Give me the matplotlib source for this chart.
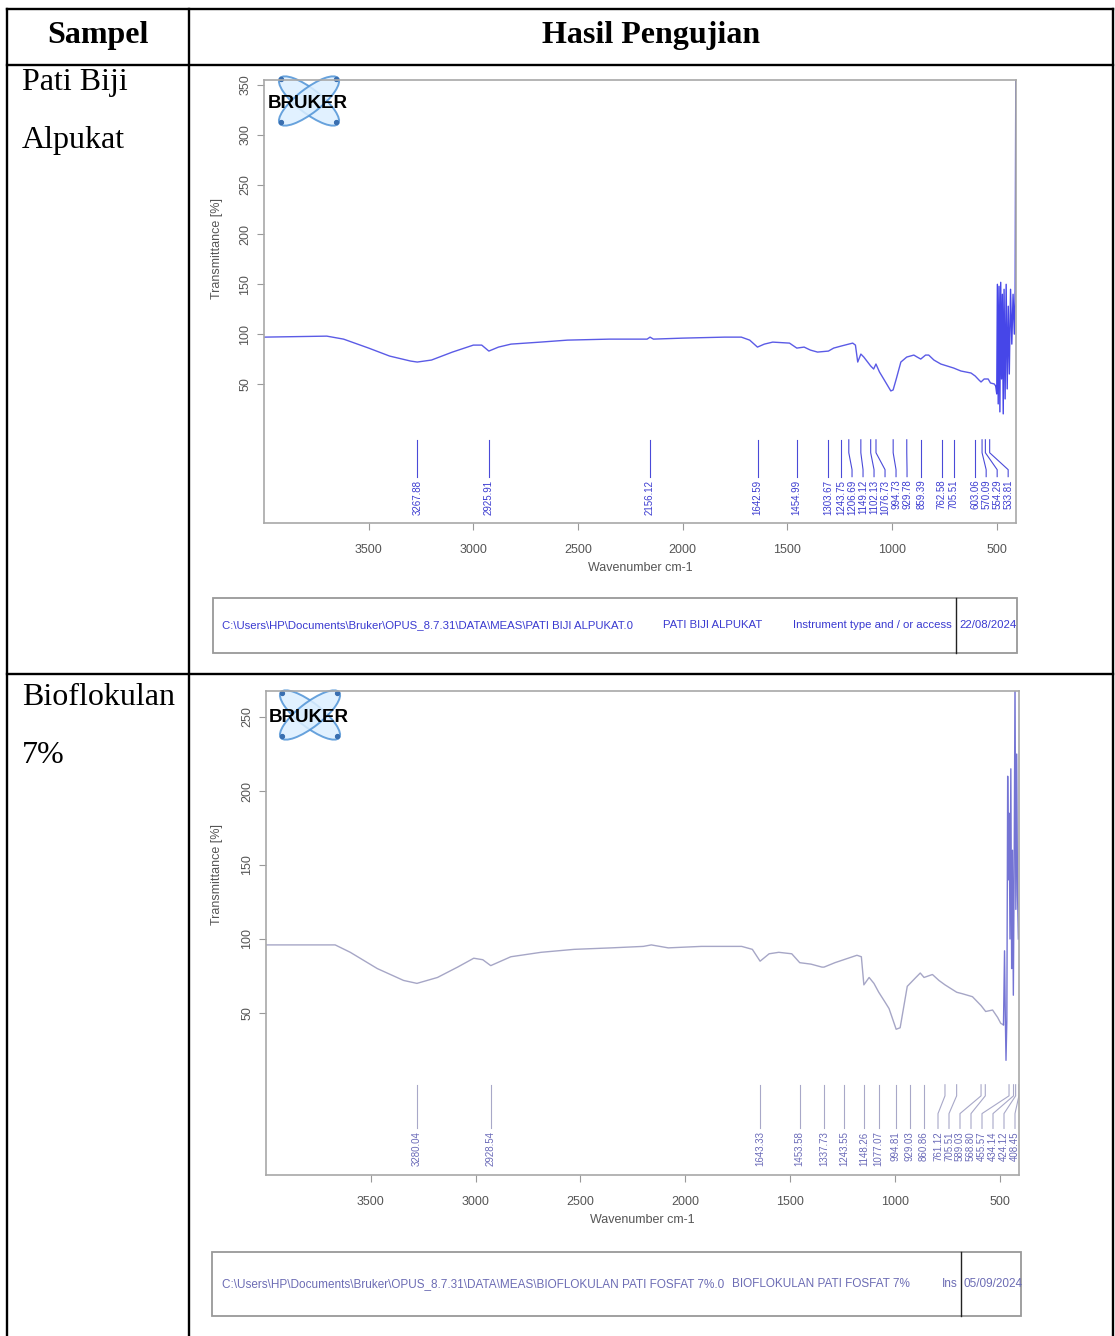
import matplotlib
matplotlib.use('Agg')
import matplotlib.pyplot as plt
from matplotlib.patches import Ellipse, Rectangle, Circle
import numpy as np

W, H = 1115, 1336

# ---- table text ----
header = ['Sampel', 'Hasil Pengujian']
samples = [['Pati Biji', 'Alpukat'], ['Bioflokulan', '7%']]

# ---- spectrum 1 : Pati Biji Alpukat ----
spec1_wn = [4000, 3700, 3620, 3500, 3400, 3300, 3268, 3200, 3100, 3000, 2960,
            2926, 2880, 2820, 2680, 2550, 2350, 2200, 2170, 2156, 2140, 2000,
            1800, 1720, 1680, 1643, 1610, 1570, 1490, 1455, 1420, 1390, 1356,
            1304, 1279, 1244, 1207, 1188, 1175, 1164, 1149, 1135, 1102, 1088,
            1077, 1060, 1040, 1006, 995, 980, 958, 930, 896, 880, 863, 840,
            825, 800, 767, 706, 671, 623, 603, 585, 575, 560, 541, 530, 512,
            505]
spec1_t = [97, 98, 95, 86, 78, 73, 72, 74, 82, 89, 89,
           83, 87, 90, 92, 94, 95, 95, 95, 97, 95, 96,
           97, 97, 94, 87, 90, 92, 91, 86, 87, 84, 82,
           83, 86, 88, 90, 91, 89, 72, 80, 77, 68, 65,
           70, 62, 55, 43, 44, 55, 72, 77, 79, 77, 75, 79,
           79, 74, 70, 66, 63, 61, 58, 54, 52, 55, 55, 51, 50,
           48]
osc1_wn = [505, 500, 497, 493, 489, 485, 481, 477, 473, 469, 465, 460, 455,
           450, 445, 440, 434, 428, 422, 416, 412, 409]
osc1_t = [48, 40, 150, 30, 148, 22, 152, 55, 140, 20, 145, 35, 150,
          45, 128, 60, 145, 90, 140, 100, 145, 360]
peaks1 = [3267.88, 2925.91, 2156.12, 1642.59, 1454.99, 1303.67, 1243.75,
          1206.69, 1149.12, 1102.13, 1076.73, 994.73, 929.78, 859.39, 762.58,
          705.51, 603.06, 570.09, 554.29, 533.81]
yticks1 = [50, 100, 150, 200, 250, 300, 350]
box1 = ['C:\\Users\\HP\\Documents\\Bruker\\OPUS_8.7.31\\DATA\\MEAS\\PATI BIJI ALPUKAT.0',
        'PATI BIJI ALPUKAT', 'Instrument type and / or access', '22/08/2024']

# ---- spectrum 2 : Bioflokulan 7% ----
spec2_wn = [4000, 3670, 3598, 3469, 3344, 3280, 3182, 3086, 3009, 2966, 2928,
            2832, 2688, 2530, 2353, 2200, 2162, 2081, 1923, 1731, 1680, 1643,
            1600, 1554, 1492, 1454, 1400, 1348, 1338, 1286, 1244, 1181, 1160,
            1148, 1123, 1100, 1077, 1050, 1028, 994, 975, 941, 900, 879, 861,
            821, 790, 761, 705, 678, 630, 589, 567, 534, 510, 495, 482]
spec2_t = [96, 96, 91, 80, 72, 70, 74, 81, 87, 86, 82,
           88, 91, 93, 94, 95, 96, 94, 95, 95, 93, 85,
           90, 91, 90, 84, 83, 81, 81, 84, 86, 89, 88,
           69, 74, 70, 64, 58, 53, 39, 40, 68, 74, 77, 74,
           76, 72, 69, 64, 63, 61, 55, 51, 52, 47, 43, 42]
osc2_wn = [482, 477, 474, 470, 466, 462, 458, 455, 451, 447, 443, 439, 435,
           431, 427, 423, 419, 415, 411]
osc2_t = [42, 92, 55, 18, 45, 210, 140, 185, 100, 215, 80, 160, 62,
          150, 275, 120, 225, 130, 100]
peaks2 = [3280.04, 2928.54, 1643.33, 1453.58, 1337.73, 1243.55, 1148.26,
          1077.07, 994.81, 929.03, 860.86, 761.12, 705.51, 589.03, 568.80,
          455.57, 434.14, 424.12, 408.45]
yticks2 = [50, 100, 150, 200, 250]
box2 = ['C:\\Users\\HP\\Documents\\Bruker\\OPUS_8.7.31\\DATA\\MEAS\\BIOFLOKULAN PATI FOSFAT 7%.0',
        'BIOFLOKULAN PATI FOSFAT 7%', 'Ins', '05/09/2024']

xticks = [3500, 3000, 2500, 2000, 1500, 1000, 500]

SERIF = ['Liberation Serif', 'DejaVu Serif']
SANS = ['Liberation Sans', 'DejaVu Sans']

fig = plt.figure(figsize=(W / 100, H / 100), dpi=100)
bg = fig.add_axes([0, 0, 1, 1])
bg.set_xlim(0, W)
bg.set_ylim(H, 0)
bg.axis('off')
renderer = fig.canvas.get_renderer()


def px_axes(x0, y0, x1, y1):
    return fig.add_axes([x0 / W, 1 - y1 / H, (x1 - x0) / W, (y1 - y0) / H])


# ---- table ----
lk = dict(color='black', lw=1.7, solid_capstyle='projecting')
bg.plot([7, 1113], [9, 9], **lk)
bg.plot([7, 1113], [65, 65], **lk)
bg.plot([7, 1113], [674, 674], **lk)
bg.plot([7, 7], [9, H], **lk)
bg.plot([189, 189], [9, H], **lk)
bg.plot([1113, 1113], [9, H], **lk)

bg.text(98, 43, header[0], ha='center', va='baseline', fontsize=23,
        fontweight='bold', family=SERIF)
bg.text(651, 43, header[1], ha='center', va='baseline', fontsize=23,
        fontweight='bold', family=SERIF)
for (l1, l2), yb in zip(samples, [90, 705]):
    bg.text(22, yb, l1, va='baseline', fontsize=23, family=SERIF)
    bg.text(22, yb + 58, l2, va='baseline', fontsize=23, family=SERIF)


def logo(cx, cy):
    for ang in (38, -38):
        bg.add_patch(Ellipse((cx, cy), 74, 24, angle=ang, fc='#dcefff',
                             ec='#4f93d6', lw=1.4, alpha=0.85))
        a = np.deg2rad(ang)
        for s in (-1, 1):
            bg.add_patch(Circle((cx + s * 35 * np.cos(a), cy + s * 35 * np.sin(a)),
                                2, color='#3a6fb0'))
    bg.text(cx - 1, cy + 2, 'BRUKER', ha='center', va='center', fontsize=13.5,
            fontweight='heavy', family=SANS, color='black')


def peak_labels(ax, peaks, ys, line_c, txt_c, gap=11):
    y_top, y_b1, y_b2, y_end, y_txt = ys
    tr = ax.transData
    inv = tr.inverted()
    xs = [tr.transform((p, 0))[0] for p in peaks]
    pos = list(xs)
    for i in range(1, len(pos)):
        pos[i] = max(pos[i], pos[i - 1] + gap)
    right = ax.bbox.x1 - 4
    pos[-1] = min(pos[-1], right)
    for i in range(len(pos) - 2, -1, -1):
        pos[i] = min(pos[i], pos[i + 1] - gap)
    for p, x in zip(peaks, pos):
        t = inv.transform((x, 0))[0]
        ax.plot([p, p, t, t], [y_top, y_b1, y_b2, y_end], color=line_c, lw=0.8)
        ax.text(t, y_txt, '%.2f' % p, rotation=90, ha='center', va='top',
                fontsize=7, color=txt_c, family=SANS)


def spectrum(box, ylim, yticks, wn, t, owx, owt, col, ocol, peaks, ys,
             pline, ptxt):
    x0, y0, x1, y1 = box
    ax = px_axes(x0, y0, x1, y1)
    ax.set_facecolor('none')
    ax.set_xlim(4000, 408)
    ax.set_ylim(*ylim)
    ax.plot(wn, t, color=col, lw=1.0)
    ax.plot(owx, owt, color=ocol, lw=1.0, clip_on=True)
    for s in ax.spines.values():
        s.set_color('#a8a8a8')
        s.set_linewidth(1.2)
    ax.set_xticks(xticks)
    ax.set_yticks(yticks)
    ax.tick_params(axis='both', direction='out', length=5, width=0.8,
                   color='#999999', labelsize=9, labelcolor='#555555')
    ax.tick_params(axis='x', pad=10)
    ax.tick_params(axis='y', pad=4)
    for lab in ax.get_xticklabels() + ax.get_yticklabels():
        lab.set_family(SANS)
    plt.setp(ax.get_yticklabels(), rotation=90, va='center')
    ax.set_ylabel('Transmittance [%]', fontsize=9, color='#555555', family=SANS)
    ax.yaxis.label.set_va('center')
    ax.yaxis.set_label_coords((217 - x0) / (x1 - x0), 0.62)
    ax.set_xlabel('Wavenumber cm-1', fontsize=9, color='#555555', family=SANS)
    ax.xaxis.label.set_va('center')
    ax.xaxis.set_label_coords(0.5, -45 / (y1 - y0))
    peak_labels(ax, peaks, ys, pline, ptxt)
    return ax


ax1 = spectrum((264, 80, 1016, 523), (-89.5, 355), yticks1, spec1_wn, spec1_t,
               osc1_wn, osc1_t, '#5b5be6', '#4646e8', peaks1,
               (-6, -19, -36, -43, -46), '#4a4ad8', '#3c3cd0')
ax2 = spectrum((266, 691, 1019, 1175), (-59.5, 267.6), yticks2, spec2_wn, spec2_t,
               osc2_wn, osc2_t, '#a6a6c6', '#7474d4', peaks2,
               (1.5, -6, -18, -28, -30), '#a8a8c8', '#6a6ab8')

logo(309, 101)
logo(310, 715)


# ---- info boxes under the spectra ----
def info_box(x0, y0, x1, y1, xdiv, texts, starts, path_end, col):
    bg.add_patch(Rectangle((x0, y0), x1 - x0, y1 - y0, fill=False,
                           ec='#999999', lw=1.3))
    bg.plot([xdiv, xdiv], [y0, y1], color='#222222', lw=1.0)
    yc = (y0 + y1) / 2
    objs = [bg.text(xs, yc, s, ha='left', va='center', fontsize=6,
                    color=col, family=SANS) for s, xs in zip(texts, starts)]
    # size the font so the file path spans its width in the reference
    w = objs[0].get_window_extent(renderer).width
    fs = 6 * (path_end - starts[0]) / w
    for o in objs:
        o.set_fontsize(fs)


info_box(213, 598, 1017, 653, 956, box1, [222, 663, 793, 959], 636, '#3a3ad0')
info_box(212, 1252, 1021, 1316, 961, box2, [222, 732, 942, 964], 727, '#6c6cb4')

fig.savefig('out.png', dpi=100)
